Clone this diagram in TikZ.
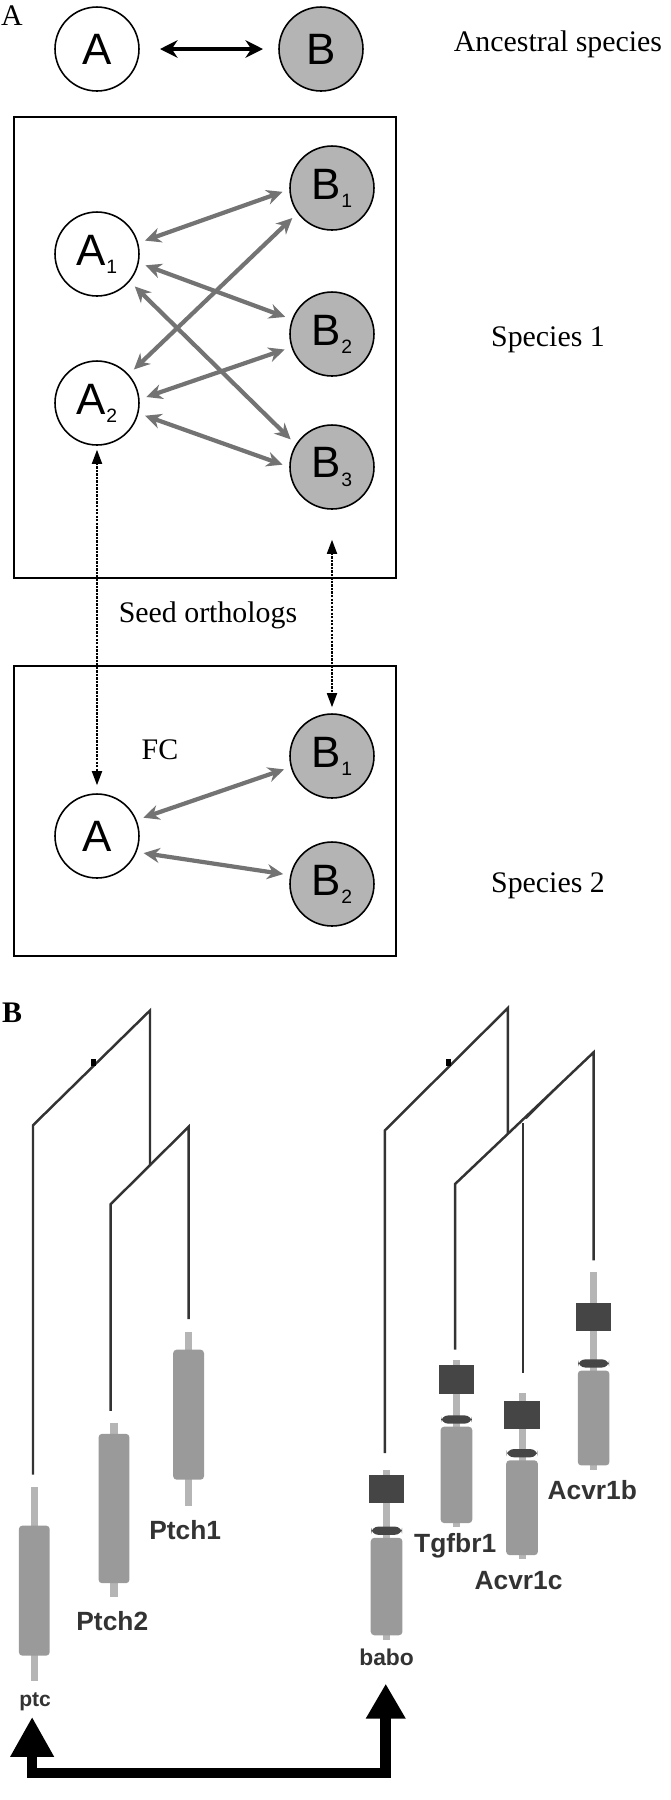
\documentclass[tikz,border=0pt]{standalone}
\usepackage{fontspec}
\setmainfont{Liberation Serif}
\setsansfont{Liberation Sans}
\usetikzlibrary{arrows.meta}
\usetikzlibrary{positioning}
\usetikzlibrary{calc}

\definecolor{linkgray}{HTML}{737373}
\definecolor{nodegray}{HTML}{B4B4B4}
\definecolor{treegray}{HTML}{333333}
\definecolor{stemgray}{HTML}{B5B5B5}
\definecolor{bodygray}{HTML}{9A9A9A}
\definecolor{kinase}{HTML}{454545}

\tikzset{
    gene/.style={circle,draw,line width=0.9pt,minimum size=1.68cm,inner sep=0pt,
        font=\sffamily\fontsize{25}{25}\selectfont},
    geneA/.style={gene,fill=white},
    geneB/.style={gene,fill=nodegray},
    link/.style={draw=linkgray,line width=2.4pt,
        {Stealth[length=0.32cm,width=0.3cm]}-{Stealth[length=0.32cm,width=0.3cm]},
        shorten <=4pt,shorten >=4pt},
    seed/.style={densely dotted,line width=1pt,-{Triangle[length=0.28cm,width=0.2cm]}},
    caption/.style={font=\fontsize{17}{19}\selectfont},
    genelabel/.style={font=\sffamily\bfseries\fontsize{15}{15}\selectfont,text=treegray},
    branch/.style={draw=treegray,line width=1.4pt},
    stem/.style={draw=stemgray,line width=4pt},
}
\newcommand{\sub}[2]{#1\raisebox{-0.35ex}{\fontsize{11}{11}\selectfont #2}}

\begin{document}
\begin{tikzpicture}[x=0.02cm,y=-0.02cm]
    \useasboundingbox (0,0) rectangle (670,1800);
    % Panel A
    \node (labA) at (12,16) [caption] {A};
    \node (anc A) at (97,49) [geneA] {A};
    \node (anc B) at (321,49) [geneB] {B};
    \draw [line width=2.6pt,{Stealth[length=0.35cm,width=0.35cm]}-{Stealth[length=0.35cm,width=0.35cm]}]
        ($(anc A)+(63,0)$) -- ($(anc B)+(-58,0)$);
    \node (anc) at (558,44) [caption] {Ancestral species};

    \draw [line width=1pt] (14,117) rectangle (396,578);
    \node (A1) at (97,254) [geneA] {\sub{A}{1}};
    \node (A2) at (97,403) [geneA] {\sub{A}{2}};
    \node (B1) at (332,188) [geneB] {\sub{B}{1}};
    \node (B2) at (332,334) [geneB] {\sub{B}{2}};
    \node (B3) at (332,467) [geneB] {\sub{B}{3}};
    \node (sp1) at (548,340) [caption] {Species 1};
    \draw [link] (A1.15) -- (B1.182);
    \draw [link] (A1.-12) -- (B2.160);
    \draw [link] (A1.-40) -- (B3.148);
    \draw [link] (A2.42) -- (B1.216);
    \draw [link] (A2.5) -- (B2.198);
    \draw [link] (A2.-14) -- (B3.180);

    \node (seed) at (208,615) [caption] {Seed orthologs};

    \draw [line width=1pt] (14,666) rectangle (396,956);
    \node (A) at (97,836) [geneA] {A};
    \node (C1) at (332,756) [geneB] {\sub{B}{1}};
    \node (C2) at (332,884) [geneB] {\sub{B}{2}};
    \node (fc) at (160,750) [caption] {FC};
    \node (sp2) at (548,886) [caption] {Species 2};
    \draw [link] (A.22) -- (C1.195);
    \draw [link] (A.-22) -- (C2.168);

    \draw [seed] ($(A)+(0,-58)$) -- ($(A2.south)+(0,4)$);
    \draw [seed] ($(A2.south)+(0,10)$) -- ($(A.north)+(0,-8)$);
    \draw [seed] ($(B3.south)+(0,36)$) -- ($(C1.north)+(0,-6)$);
    \draw [seed] ($(C1.north)+(0,-14)$) -- ($(B3.south)+(0,30)$);

    % Panel B
    \node (labB) at (12,1013) [font=\bfseries\fontsize{17}{19}\selectfont] {B};
    \begin{scope}[shift={(0,985)},xscale=0.4286,yscale=0.51]
        % trees
        \draw [branch] (77,960) -- (77,275) -- (350,50) -- (350,355);
        \draw [branch] (258,835) -- (258,430) -- (440,278) -- (440,655);
        \fill [black] (212,158) rectangle (224,146);
        \draw [branch] (898,918) -- (898,285) -- (1185,45) -- (1185,290);
        \draw [branch] (1062,715) -- (1062,390) -- (1385,132) -- (1385,540);
        \draw [branch] (1220,760) -- (1220,270);
        \draw [draw=treegray,line width=0.6pt] (1228,262) -- (1305,197);
        \fill [black] (1040,158) rectangle (1052,146);
        % genes
        \foreach \x/\a/\b/\c/\d in {80/985/1060/1315/1365, 266/858/880/1173/1200, 440/680/715/970/1022}{
            \draw [stem] (\x,\a) -- (\x,\d);
            \fill [bodygray,rounded corners=2pt] (\x-36,\b) rectangle (\x+36,\c);
        }
        \foreach \x/\a/\k/\n/\c/\d in {902/950/960/1070/1275/1285, 1065/735/745/852/1055/1062,
                1218/800/815/918/1118/1125, 1385/563/623/742/942/950}{
            \draw [stem] (\x,\a) -- (\x,\d);
            \fill [bodygray,rounded corners=2pt] (\x-37,\n+14) rectangle (\x+37,\c);
            \fill [kinase] (\x-41,\k) rectangle (\x+41,\k+56);
            \fill [kinase,rounded corners=4pt] (\x-36,\n-8) rectangle (\x+36,\n+8);
        }
        \node (ptc) at (82,1405) [genelabel,font=\sffamily\bfseries\fontsize{12}{12}\selectfont] {ptc};
        \node (ptch2) at (262,1248) [genelabel] {Ptch2};
        \node (ptch1) at (432,1068) [genelabel] {Ptch1};
        \node (babo) at (902,1318) [genelabel,font=\sffamily\bfseries\fontsize{13}{13}\selectfont] {babo};
        \node (tgf) at (1062,1100) [genelabel] {Tgfbr1};
        \node (acvc) at (1210,1168) [genelabel] {Acvr1c};
        \node (acvb) at (1382,990) [genelabel] {Acvr1b};
        % homology arrow
        \draw [line width=6pt,line join=miter,
            {Triangle[length=0.8cm,width=0.82cm]}-{Triangle[length=0.7cm,width=0.75cm]}]
            (75,1435) -- (75,1545) -- (900,1545) -- (900,1370);
    \end{scope}
\end{tikzpicture}
\end{document}
